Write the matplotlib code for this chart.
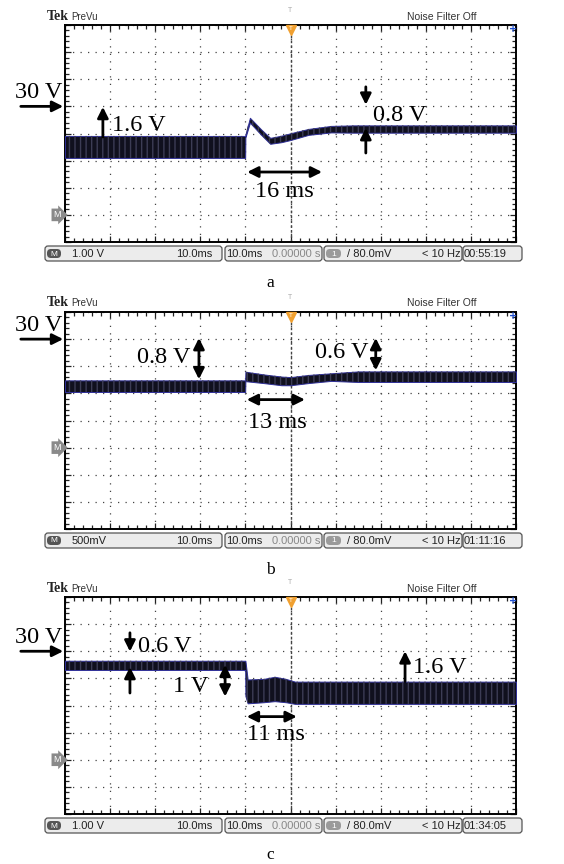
import numpy as np
import matplotlib.pyplot as plt
from matplotlib.patches import FancyBboxPatch

W, H = 564, 864
SERIF = ['Liberation Serif', 'DejaVu Serif']
SANS = ['Liberation Sans Narrow', 'Liberation Sans', 'DejaVu Sans']

# time in ms (10 ms/div), trace envelope in screen divisions (0 = bottom, 8 = top)
t_a = [-50, -10.05, -10.0, -9.0, -6.5, -4.5, -2.0, 0.0, 4.0, 9.0, 14.0, 50]
hi_a = [3.91, 3.91, 3.95, 4.58, 4.15, 3.84, 3.92, 4.01, 4.17, 4.28, 4.30, 4.30]
lo_a = [3.10, 3.10, 3.85, 4.40, 3.95, 3.62, 3.68, 3.76, 3.95, 4.04, 4.03, 4.03]

t_b = [-50, -10.05, -10.0, -6.0, -2.0, 0.0, 4.0, 9.0, 15.0, 50]
hi_b = [5.48, 5.48, 5.80, 5.70, 5.62, 5.60, 5.68, 5.74, 5.81, 5.81]
lo_b = [5.05, 5.05, 5.45, 5.38, 5.30, 5.30, 5.38, 5.46, 5.42, 5.42]

t_c = [-50, -10.05, -10.0, -9.5, -6.0, -3.5, -1.0, 1.0, 50]
hi_c = [5.65, 5.65, 5.65, 4.96, 4.98, 5.06, 4.98, 4.88, 4.88]
lo_c = [5.31, 5.31, 4.35, 4.08, 4.12, 4.16, 4.12, 4.06, 4.06]

ref_30v = [5, 7, 6]          # division of the "30 V" reference arrow
m_marker = [1, 3, 2]         # division of the "M" marker
trig_t = 0.0
volts_div = ['1.00 V', '500mV', '1.00 V']
clock = ['00:55:19', '01:11:16', '01:34:05']
letters = ['a', 'b', 'c']

# single arrows (t, from, to), double vertical arrows (t, y1, y2),
# double horizontal arrows (t1, t2, y), labels (t, y, text)
single = [[(-41.6, 3.87, 4.98), (16.7, 5.72, 5.06), (16.7, 3.28, 4.20)],
          [],
          [(-35.6, 6.68, 5.99), (-35.6, 4.46, 5.42), (25.4, 4.88, 6.00)]]
vdouble = [[], [(-20.3, 7.04, 5.52), (18.9, 7.04, 5.85)], [(-14.5, 5.50, 4.33)]]
hdouble = [[(-9.6, 7.0, 2.58)], [(-9.7, 3.2, 4.77)], [(-9.7, 1.4, 3.59)]]
labels = [[(-39.6, 4.30, '1.6 V'), (18.3, 4.68, '0.8 V'), (-7.9, 1.88, '16 ms')],
          [(-34.0, 6.34, '0.8 V'), (5.4, 6.49, '0.6 V'), (-9.4, 3.94, '13 ms')],
          [(-33.8, 6.17, '0.6 V'), (-26.1, 4.70, '1 V'), (27.2, 5.41, '1.6 V'),
           (-9.6, 2.92, '11 ms')]]

traces = [(t_a, hi_a, lo_a), (t_b, hi_b, lo_b), (t_c, hi_c, lo_c)]
tops = [25, 312, 597]
SCR_L, SCR_W, SCR_H = 65, 451, 217

fig = plt.figure(figsize=(W / 100, H / 100), dpi=100)
bg = fig.add_axes([0, 0, 1, 1])
bg.set_xlim(0, W)
bg.set_ylim(H, 0)
bg.axis('off')

arrow_kw = dict(arrowstyle='-|>', color='k', lw=2.0, mutation_scale=16,
                shrinkA=0, shrinkB=0)
darrow_kw = dict(arrowstyle='<|-|>', color='k', lw=2.0, mutation_scale=16,
                 shrinkA=0, shrinkB=0)


def status_bar(y0, i):
    h = 15
    for x0, x1 in [(45, 222), (225, 322), (324, 462), (463, 522)]:
        bg.add_patch(FancyBboxPatch((x0, y0), x1 - x0, h,
                                    boxstyle='round,pad=0,rounding_size=3',
                                    fc='#ececec', ec='#555555', lw=0.9))
    yc = y0 + h / 2 + 0.5
    bg.add_patch(FancyBboxPatch((47, y0 + 3), 14, h - 6,
                                boxstyle='round,pad=0,rounding_size=4',
                                fc='#555555', ec='none'))
    bg.text(54, yc, 'M', color='white', fontsize=6, ha='center', va='center', family=SANS)
    bg.add_patch(FancyBboxPatch((326, y0 + 3), 15, h - 6,
                                boxstyle='round,pad=0,rounding_size=4',
                                fc='#9a9a9a', ec='none'))
    bg.text(333.5, yc, '1', color='white', fontsize=6, ha='center', va='center', family=SANS)
    kw = dict(fontsize=8, va='center', family=SANS, color='#222222')
    bg.text(72, yc, volts_div[i], ha='left', **kw)
    bg.text(212, yc, '10.0ms', ha='right', **kw)
    bg.text(226, yc, '10.0ms', ha='left', **kw)
    bg.text(320, yc, '0.00000 s', ha='right', fontsize=8, va='center',
            family=SANS, color='#888888')
    bg.text(347, yc, '/ 80.0mV', ha='left', **kw)
    bg.text(461, yc, '< 10 Hz', ha='right', **kw)
    bg.text(464, yc, clock[i], ha='left', **kw)


for i, top in enumerate(tops):
    ax = fig.add_axes([SCR_L / W, 1 - (top + SCR_H) / H, SCR_W / W, SCR_H / H])
    ax.set_xlim(-50, 50)
    ax.set_ylim(0, 8)
    ax.set_xticks(np.arange(-50, 51, 10))
    ax.set_yticks(np.arange(0, 9, 1))
    ax.set_xticks(np.arange(-50, 51, 2), minor=True)
    ax.set_yticks(np.arange(0, 8.01, 0.2), minor=True)
    ax.tick_params(which='both', direction='in', top=True, right=True,
                   labelbottom=False, labelleft=False, width=0.9, color='#222222')
    ax.tick_params(which='major', length=4)
    ax.tick_params(which='minor', length=3)
    ax.grid(True, which='major', color='#444444', ls=(0, (1, 5)), lw=0.9)
    ax.axvline(trig_t, color='#444444', ls=(0, (2, 1.5)), lw=1.0)
    for s in ax.spines.values():
        s.set_linewidth(1.4)

    t, hi, lo = traces[i]
    ax.fill_between(t, lo, hi, fc='#10101e', ec='#30309a', lw=0.7, zorder=3)
    ax.fill_between(t, lo, hi, fc='none', ec='#3c3c55', lw=0, hatch='|||', zorder=3)

    # trigger marker and top-right marker
    ax.plot([trig_t], [7.82], marker='v', color='#f0a030', ms=7, zorder=6, clip_on=False)
    ax.text(trig_t, 7.86, 'T', color='white', fontsize=4.5, ha='center', va='center',
            zorder=7, family=SANS)
    ax.text(trig_t, 8.55, 'T', color='#aaaaaa', fontsize=5, ha='center', va='center',
            family=SANS, clip_on=False)
    ax.text(49.3, 7.85, '+', color='#2050d0', fontsize=7, fontweight='bold',
            ha='center', va='center')
    ax.annotate('M', xy=(-50, m_marker[i]), xytext=(-3, 0), textcoords='offset points',
                ha='right', va='center', fontsize=6.5, color='white', family=SANS,
                bbox=dict(boxstyle='rarrow,pad=0.2', fc='#8a8a8a', ec='none'),
                annotation_clip=False)

    # 30 V reference
    r = ref_30v[i]
    ax.annotate('', xy=(-50.4, r), xytext=(-59.8, r), arrowprops=arrow_kw,
                annotation_clip=False)
    ax.text(-55.9, r + 0.3, '30 V', ha='center', va='baseline', fontsize=17.5,
            family=SERIF, clip_on=False)

    for x, y0, y1 in single[i]:
        ax.annotate('', xy=(x, y1), xytext=(x, y0), arrowprops=arrow_kw, zorder=5)
    for x, y0, y1 in vdouble[i]:
        ax.annotate('', xy=(x, y1), xytext=(x, y0), arrowprops=darrow_kw, zorder=5)
    for x0, x1, y in hdouble[i]:
        ax.annotate('', xy=(x1, y), xytext=(x0, y), arrowprops=darrow_kw, zorder=5)
    for x, y, s in labels[i]:
        ax.text(x, y, s, ha='left', va='center', fontsize=17.5, family=SERIF, zorder=5)

    # header and status bar
    bg.text(47, top - 9, 'Tek', fontsize=10, fontweight='bold', family=SERIF,
            ha='left', va='center', color='#222222')
    bg.text(71, top - 8.5, 'PreVu', fontsize=7, family=SANS, ha='left', va='center',
            color='#333333')
    bg.text(407, top - 8.5, 'Noise Filter Off', fontsize=7.5, family=SANS, ha='left',
            va='center', color='#333333')
    status_bar(top + SCR_H + 4, i)
    bg.text(270, top + SCR_H + 41, letters[i], fontsize=12.5, family=SERIF,
            ha='center', va='center')

fig.savefig('out.png', dpi=100)
